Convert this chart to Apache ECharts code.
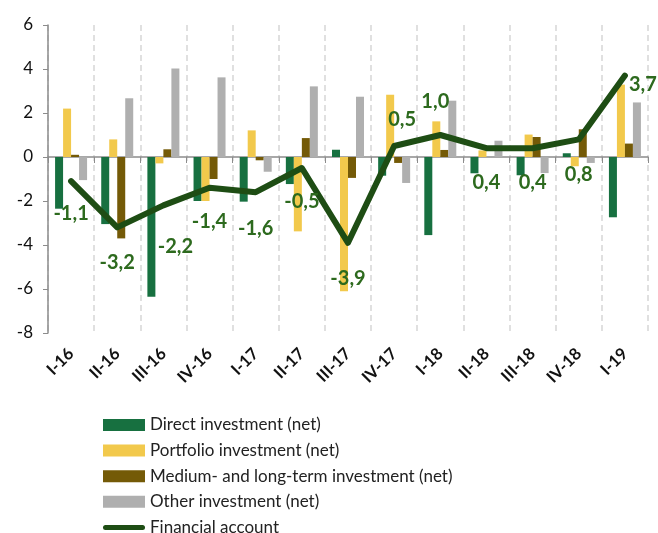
<!DOCTYPE html>
<html>
<head>
<meta charset="utf-8">
<script src="https://cdn.jsdelivr.net/npm/echarts@6/dist/echarts.min.js"></script>
<style>
  html, body { margin: 0; padding: 0; background: #fff; }
  #chart { width: 658px; height: 533px; }
</style>
</head>
<body>
<div id="chart"></div>
<script>
// quarters
var categories = ['I-16', 'II-16', 'III-16', 'IV-16', 'I-17', 'II-17', 'III-17', 'IV-17', 'I-18', 'II-18', 'III-18', 'IV-18', 'I-19']

// series values
var directInvestment = [-2.35, -3.05, -6.35, -2.0, -2.03, -1.23, 0.33, -0.85, -3.55, -0.74, -0.83, 0.17, -2.74]
var portfolioInvestment = [2.2, 0.8, -0.29, -2.0, 1.21, -3.38, -6.1, 2.83, 1.62, 0.3, 1.02, -0.42, 3.29]
var mediumLongInvestment = [0.1, -3.7, 0.35, -1.0, -0.15, 0.86, -0.95, -0.27, 0.32, 0.0, 0.91, 1.26, 0.61]
var otherInvestment = [-1.05, 2.67, 4.02, 3.62, -0.67, 3.21, 2.74, -1.18, 2.56, 0.74, -0.73, -0.27, 2.48]
var financialAccount = [-1.1, -3.2, -2.2, -1.4, -1.6, -0.5, -3.9, 0.5, 1.0, 0.4, 0.4, 0.8, 3.7]

// y axis ticks
var yMin = -8
var yMax = 6
var yStep = 2

// where each line label sits, relative to its point (px)
var labelOffsets = [[0, 32], [0, 35], [12, 41], [0, 34], [0, 36], [0, 34], [0, 36], [8, -26], [-5, -33], [0, 34], [0, 34], [0, 35], [18, 9]]

var font = 'Lato'

function fmt(v) {
  return v.toFixed(1).replace('.', ',')
}

var chart = echarts.init(document.getElementById('chart'), null, { renderer: 'canvas' })

var barCommon = {
  type: 'bar',
  xAxisIndex: 0,
  barWidth: 8,
  barGap: '0%'
}

// thick line with round ends for the legend
var lineIcon = 'path://M2.5,0 L39.5,0 A2.5,2.5 0 0 1 39.5,5 L2.5,5 A2.5,2.5 0 0 1 2.5,0 Z'

chart.setOption({
  animation: false,
  textStyle: { fontFamily: font },
  grid: {
    left: 48,
    right: 10,
    top: 25,
    bottom: 200
  },
  legend: {
    orient: 'vertical',
    left: 103,
    top: 416,
    height: 160,
    padding: 0,
    itemWidth: 42,
    itemHeight: 12,
    itemGap: 7.6,
    textStyle: { fontFamily: font, fontSize: 17, color: '#222', lineHeight: 18 },
    data: [
      { name: 'Direct investment (net)', icon: 'rect' },
      { name: 'Portfolio investment (net)', icon: 'rect' },
      { name: 'Medium- and long-term investment (net)', icon: 'rect' },
      { name: 'Other investment (net)', icon: 'rect' },
      { name: 'Financial account', icon: lineIcon, itemStyle: { color: '#1e4d14' } }
    ]
  },
  xAxis: [
    {
      type: 'category',
      data: categories,
      axisLine: { onZero: true, lineStyle: { color: '#8c8c8c', width: 1.5 } },
      axisTick: { show: true, length: 6, lineStyle: { color: '#8c8c8c' } },
      axisLabel: { show: false },
      splitLine: { show: true, lineStyle: { color: '#d6d6d6', type: [6, 4], width: 1.5 } }
    },
    {
      type: 'category',
      data: categories,
      position: 'bottom',
      offset: 0,
      axisLine: { show: false, onZero: false },
      axisTick: { show: false },
      axisLabel: {
        rotate: 45,
        margin: 18,
        interval: 0,
        fontFamily: font,
        fontSize: 16.5,
        fontWeight: 'bold',
        color: '#111'
      },
      splitLine: { show: false }
    }
  ],
  yAxis: {
    type: 'value',
    min: yMin,
    max: yMax,
    interval: yStep,
    axisLine: { show: true, lineStyle: { color: '#8c8c8c', width: 1.5 } },
    axisTick: { show: true, length: 5, lineStyle: { color: '#8c8c8c' } },
    axisLabel: { fontFamily: font, fontSize: 17, color: '#111', margin: 15 },
    splitLine: { show: false }
  },
  series: [
    Object.assign({}, barCommon, {
      name: 'Direct investment (net)',
      itemStyle: { color: '#177040' },
      data: directInvestment
    }),
    Object.assign({}, barCommon, {
      name: 'Portfolio investment (net)',
      itemStyle: { color: '#f2c94c' },
      data: portfolioInvestment
    }),
    Object.assign({}, barCommon, {
      name: 'Medium- and long-term investment (net)',
      itemStyle: { color: '#745a07' },
      data: mediumLongInvestment
    }),
    Object.assign({}, barCommon, {
      name: 'Other investment (net)',
      itemStyle: { color: '#afafaf' },
      data: otherInvestment
    }),
    {
      name: 'Financial account',
      type: 'line',
      xAxisIndex: 0,
      z: 5,
      symbol: 'circle',
      symbolSize: 1,
      showSymbol: true,
      lineStyle: { color: '#1e4d14', width: 6, cap: 'round', join: 'round' },
      itemStyle: { color: '#1e4d14' },
      data: financialAccount.map(function(v, i) {
        return {
          value: v,
          label: { offset: labelOffsets[i] }
        }
      }),
      label: {
        show: true,
        position: 'inside',
        fontFamily: font,
        fontSize: 20,
        fontWeight: 'bold',
        color: '#2d6a1e',
        formatter: function(p) {
          return fmt(p.value)
        }
      }
    }
  ]
})
</script>
</body>
</html>
